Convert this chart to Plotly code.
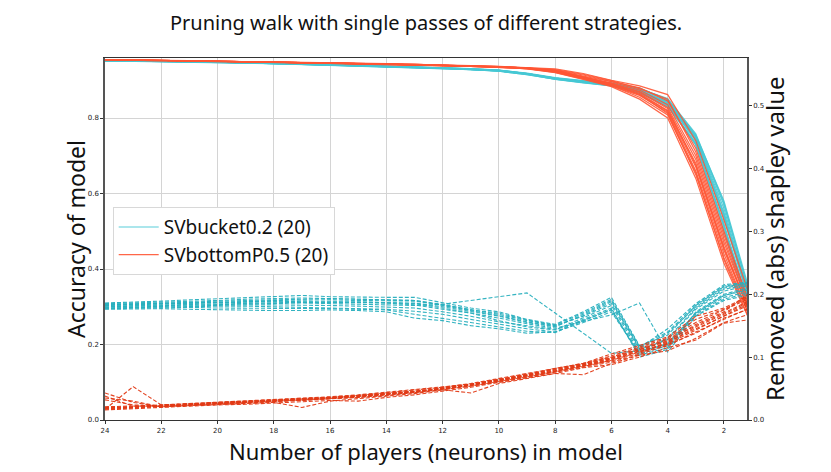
import plotly.graph_objects as go

# x: number of players (neurons) in model
players = [24, 23, 22, 21, 20, 19, 18, 17, 16, 15, 14, 13, 12, 11, 10, 9, 8, 7, 6, 5, 4, 3, 2, 1]

# SVbucket0.2 accuracy runs (left axis)
bucket_acc = [
    [.952, .952, .951, .950, .949, .948, .946, .944, .942, .940, .937, .935, .932, .929, .925, .917, .905, .897, .889, .874, .842, .745, .545, .29],
    [.953, .952, .951, .950, .949, .947, .945, .943, .941, .939, .936, .934, .933, .930, .927, .919, .907, .899, .893, .878, .850, .755, .58, .32],
    [.951, .950, .950, .949, .947, .946, .944, .942, .940, .938, .935, .933, .931, .928, .924, .915, .903, .894, .886, .868, .832, .735, .51, .27],
    [.952, .951, .950, .949, .948, .947, .945, .943, .941, .939, .936, .934, .932, .929, .926, .918, .906, .898, .891, .876, .846, .75, .56, .30],
    [.952, .951, .951, .950, .948, .947, .946, .944, .942, .939, .937, .935, .933, .930, .926, .917, .904, .895, .887, .870, .836, .728, .50, .26],
    [.953, .952, .951, .950, .949, .948, .946, .944, .942, .940, .938, .936, .934, .931, .927, .918, .905, .896, .890, .880, .848, .752, .57, .31],
    [.951, .951, .950, .949, .948, .946, .945, .943, .941, .939, .936, .934, .932, .928, .925, .916, .902, .893, .885, .866, .83, .732, .52, .28],
    [.952, .952, .951, .950, .949, .947, .945, .943, .941, .940, .937, .935, .933, .930, .926, .918, .906, .897, .888, .872, .838, .74, .54, .29],
    [.952, .951, .950, .949, .948, .947, .945, .943, .941, .939, .937, .935, .932, .929, .925, .916, .904, .896, .888, .871, .844, .748, .55, .30],
    [.953, .952, .951, .950, .949, .947, .946, .944, .942, .940, .937, .935, .933, .930, .926, .918, .906, .898, .892, .877, .852, .758, .575, .31],
    [.951, .951, .950, .949, .948, .946, .944, .942, .940, .938, .936, .934, .931, .928, .924, .915, .903, .894, .886, .869, .834, .73, .515, .27],
    [.952, .952, .951, .950, .948, .947, .945, .943, .941, .939, .937, .935, .932, .929, .925, .917, .905, .896, .889, .873, .840, .742, .535, .29],
]

# SVbottomP0.5 accuracy runs (left axis)
bottom_acc = [
    [.955, .954, .953, .952, .951, .950, .949, .948, .946, .945, .943, .942, .940, .938, .936, .932, .926, .912, .896, .874, .835, .70, .48, .28],
    [.954, .953, .952, .951, .950, .949, .948, .946, .945, .943, .942, .940, .939, .937, .935, .931, .922, .905, .885, .86, .815, .66, .44, .26],
    [.955, .954, .953, .952, .952, .950, .949, .948, .947, .945, .944, .942, .941, .939, .937, .934, .930, .918, .900, .885, .862, .74, .53, .31],
    [.954, .954, .953, .952, .951, .950, .948, .947, .946, .944, .943, .941, .940, .938, .936, .932, .924, .908, .890, .865, .82, .68, .46, .27],
    [.955, .954, .953, .952, .951, .949, .948, .947, .945, .944, .942, .941, .939, .937, .935, .930, .920, .902, .883, .85, .80, .64, .415, .25],
    [.955, .954, .953, .952, .951, .950, .949, .947, .946, .944, .943, .941, .940, .938, .936, .932, .927, .914, .898, .88, .845, .72, .50, .29],
    [.954, .953, .952, .952, .951, .949, .948, .947, .945, .944, .942, .941, .939, .937, .935, .931, .923, .906, .888, .862, .812, .65, .43, .26],
    [.955, .954, .953, .952, .951, .950, .949, .948, .946, .945, .943, .942, .940, .938, .936, .933, .925, .910, .893, .87, .828, .69, .47, .28],
    [.955, .954, .953, .952, .951, .950, .948, .947, .946, .944, .943, .941, .940, .938, .936, .932, .925, .909, .891, .868, .825, .675, .455, .27],
    [.954, .953, .952, .951, .950, .949, .948, .947, .945, .944, .942, .941, .939, .937, .935, .931, .921, .904, .886, .855, .808, .655, .425, .25],
    [.955, .954, .953, .952, .951, .950, .949, .948, .946, .945, .943, .942, .940, .938, .936, .933, .928, .916, .899, .878, .85, .71, .49, .29],
    [.955, .954, .953, .952, .951, .950, .949, .947, .946, .944, .943, .941, .940, .938, .936, .932, .924, .907, .889, .863, .818, .67, .45, .27],
]

# SVbucket0.2 removed (abs) shapley value runs (right axis)
bucket_sv = [
    [.182, .183, .184, .186, .187, .188, .190, .191, .191, .190, .190, .189, .183, .176, .168, .158, .150, .165, .185, .112, .128, .176, .205, .215],
    [.178, .179, .180, .181, .181, .181, .180, .180, .179, .178, .176, .173, .168, .160, .152, .145, .140, .155, .172, .105, .118, .168, .195, .205],
    [.186, .187, .189, .191, .193, .195, .197, .198, .196, .195, .195, .195, .186, .178, .172, .160, .152, .172, .195, .118, .135, .182, .212, .218],
    [.180, .181, .182, .183, .184, .185, .186, .186, .185, .184, .183, .182, .184, .190, .196, .202, .170, .138, .106, .110, .120, .170, .198, .21],
    [.184, .185, .186, .187, .188, .189, .189, .188, .188, .187, .186, .183, .176, .170, .162, .153, .146, .156, .167, .186, .108, .165, .19, .20],
    [.176, .177, .177, .176, .175, .175, .174, .174, .175, .174, .172, .162, .158, .150, .145, .138, .140, .160, .178, .100, .112, .172, .2, .212],
    [.183, .184, .185, .186, .186, .187, .188, .187, .187, .186, .186, .186, .180, .172, .165, .155, .148, .168, .19, .115, .145, .185, .215, .22],
    [.181, .182, .183, .184, .185, .186, .187, .188, .188, .188, .187, .185, .178, .170, .158, .148, .143, .162, .182, .108, .13, .178, .208, .216],
    [.179, .180, .181, .182, .183, .183, .183, .183, .182, .181, .180, .178, .172, .165, .156, .150, .144, .158, .176, .106, .122, .17, .198, .208],
    [.185, .186, .188, .189, .190, .192, .193, .194, .193, .192, .192, .190, .182, .174, .166, .156, .149, .166, .188, .114, .138, .18, .21, .217],
    [.177, .178, .179, .179, .178, .178, .177, .177, .177, .176, .175, .168, .162, .155, .148, .141, .139, .158, .175, .103, .115, .166, .192, .203],
    [.183, .184, .185, .187, .189, .190, .192, .193, .193, .192, .191, .190, .184, .175, .170, .159, .151, .170, .192, .117, .14, .183, .213, .219],
]

# SVbottomP0.5 removed (abs) shapley value runs (right axis)
bottom_sv = [
    [.018, .020, .023, .025, .027, .028, .030, .031, .034, .037, .040, .044, .050, .055, .063, .070, .078, .087, .097, .110, .122, .148, .168, .19],
    [.038, .022, .022, .024, .026, .028, .029, .031, .033, .036, .039, .043, .048, .054, .061, .069, .077, .085, .095, .108, .118, .140, .160, .18],
    [.017, .053, .024, .026, .028, .030, .031, .033, .036, .039, .043, .047, .052, .058, .066, .073, .081, .090, .100, .114, .128, .155, .175, .195],
    [.043, .028, .021, .023, .025, .026, .028, .020, .030, .034, .038, .042, .048, .043, .058, .066, .074, .072, .090, .103, .110, .130, .155, .17],
    [.020, .021, .024, .026, .029, .031, .033, .034, .037, .040, .044, .048, .053, .057, .064, .072, .082, .090, .105, .118, .132, .165, .178, .20],
    [.016, .018, .021, .023, .024, .025, .027, .029, .031, .030, .036, .040, .046, .052, .060, .067, .074, .083, .088, .100, .115, .127, .154, .16],
    [.032, .024, .022, .025, .027, .029, .031, .033, .035, .038, .041, .045, .050, .056, .064, .071, .079, .088, .098, .112, .125, .152, .172, .205],
    [.019, .020, .023, .025, .026, .028, .030, .032, .035, .038, .041, .045, .051, .056, .062, .070, .078, .086, .094, .106, .124, .145, .165, .185],
    [.021, .022, .023, .025, .027, .029, .031, .032, .035, .039, .042, .046, .049, .055, .062, .071, .080, .088, .099, .113, .126, .15, .17, .192],
    [.035, .030, .021, .024, .026, .027, .029, .031, .033, .036, .040, .044, .049, .054, .060, .068, .076, .084, .092, .104, .12, .138, .162, .178],
    [.017, .019, .022, .024, .026, .028, .030, .032, .034, .037, .040, .044, .050, .056, .063, .070, .077, .086, .096, .109, .121, .143, .166, .188],
    [.019, .021, .023, .026, .028, .030, .032, .034, .036, .039, .042, .046, .051, .057, .065, .073, .081, .089, .102, .116, .13, .16, .176, .198],
]

x_ticks = [2, 4, 6, 8, 10, 12, 14, 16, 18, 20, 22, 24]
left_ticks = [0.0, 0.2, 0.4, 0.6, 0.8]
right_ticks = [0.0, 0.1, 0.2, 0.3, 0.4, 0.5]

names = ["SVbucket0.2 (20)", "SVbottomP0.5 (20)"]
solid_colors = ["rgba(70,200,212,0.9)", "rgba(255,85,52,0.9)"]
dash_colors = ["rgba(40,175,190,0.95)", "rgba(226,58,22,0.95)"]

fig = go.Figure()

for g, (acc_runs, sv_runs) in enumerate([(bucket_acc, bucket_sv), (bottom_acc, bottom_sv)]):
    for i, run in enumerate(sv_runs):
        fig.add_trace(go.Scatter(
            x=players, y=run, mode="lines", yaxis="y2",
            line=dict(color=dash_colors[g], width=1.1, dash="4px,2px"),
            showlegend=False, hoverinfo="skip"))

for g, (acc_runs, sv_runs) in enumerate([(bucket_acc, bucket_sv), (bottom_acc, bottom_sv)]):
    for i, run in enumerate(acc_runs):
        fig.add_trace(go.Scatter(
            x=players, y=run, mode="lines", yaxis="y",
            line=dict(color=solid_colors[g], width=1.2),
            name=names[g], legendgroup=names[g], showlegend=(i == 0),
            legendrank=g + 1))

tick_font = dict(family="DejaVu Sans", size=7, color="#222")

# the page body adds an 8px offset; margins compensate for it
fig.update_layout(
    width=831, height=472,
    margin=dict(l=97, r=92, t=50, b=60),
    paper_bgcolor="white", plot_bgcolor="white",
    showlegend=True,
    legend=dict(x=0.012, y=0.588, xanchor="left", yanchor="top",
                bgcolor="white", bordercolor="#d8d8d8", borderwidth=1,
                font=dict(family="Noto Sans", size=19, color="#111"),
                tracegroupgap=0, itemwidth=40),
    xaxis=dict(range=[24, 1.18], tickvals=x_ticks, ticktext=[str(v) for v in x_ticks],
               tickfont=tick_font, ticks="outside", ticklen=3, tickcolor="#333",
               showgrid=True, gridcolor="#d4d4d4", gridwidth=1,
               showline=True, linecolor="#333", linewidth=1.2, mirror=True,
               zeroline=False),
    yaxis=dict(range=[0, 0.959], tickvals=left_ticks, ticktext=["0.0", "0.2", "0.4", "0.6", "0.8"],
               tickfont=tick_font, ticks="outside", ticklen=3, tickcolor="#333",
               showgrid=True, gridcolor="#d4d4d4", gridwidth=1,
               showline=True, linecolor="#555", linewidth=1.5, mirror=False,
               zeroline=False),
    yaxis2=dict(range=[0, 0.5755], tickvals=right_ticks, ticktext=["0.0", "0.1", "0.2", "0.3", "0.4", "0.5"],
                overlaying="y", side="right", tickfont=tick_font,
                ticks="outside", ticklen=3, tickcolor="#333",
                showgrid=False, showline=True, linecolor="#555", linewidth=1.5,
                zeroline=False),
    annotations=[
        dict(text="Pruning walk with single passes of different strategies.",
             xref="paper", yref="paper", x=0.5, y=1, yshift=36, xshift=0,
             showarrow=False, font=dict(family="Noto Sans", size=20, color="#111"),
             xanchor="center", yanchor="middle"),
        dict(text="Accuracy of model", xref="paper", yref="paper",
             x=0, xshift=-29, y=0.5, textangle=-90, showarrow=False,
             font=dict(family="Noto Sans", size=23, color="#111"),
             xanchor="center", yanchor="middle"),
        dict(text="Number of players (neurons) in model", xref="paper", yref="paper",
             x=0.5, y=0, yshift=-31, showarrow=False,
             font=dict(family="Noto Sans", size=22, color="#111"),
             xanchor="center", yanchor="middle"),
        dict(text="Removed (abs) shapley value", xref="paper", yref="paper",
             x=1, xshift=27, y=0.5, textangle=-90, showarrow=False,
             font=dict(family="Noto Sans", size=24, color="#111"),
             xanchor="center", yanchor="middle"),
    ],
)

fig.write_html("out.html")
